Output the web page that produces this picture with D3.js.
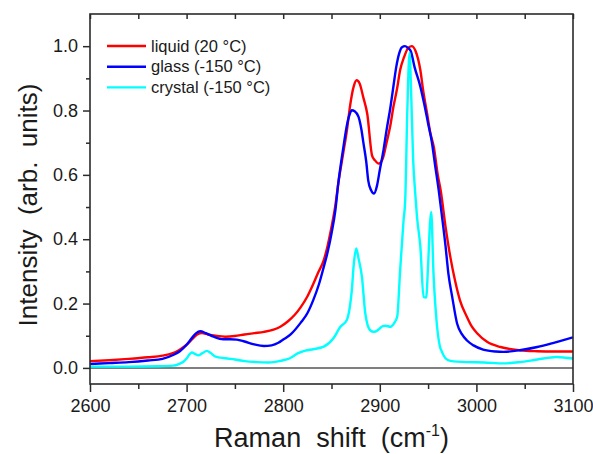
<!DOCTYPE html>
<html lang="en">
<head>
<meta charset="UTF-8">
<title>Raman spectra</title>
<script src="https://d3js.org/d3.v7.min.js"></script>
<style>
  body { margin: 0; background: #fff; }
  svg text { font-family: "Liberation Sans", Arial, sans-serif; fill: #1a1a1a; }
</style>
</head>
<body>
<svg id="chart" width="593" height="454"></svg>
<script>
// liquid (20 °C)
const liquidX = [2600, 2620, 2640, 2660, 2675, 2685, 2692, 2700, 2706, 2711, 2716, 2722, 2730, 2740, 2750,
  2760, 2770, 2780, 2790, 2797, 2805, 2812, 2818, 2825, 2831, 2836, 2842, 2846, 2850, 2854, 2857, 2862,
  2866, 2869, 2873, 2876, 2879, 2883, 2887, 2892, 2895, 2899, 2903, 2907, 2911, 2914, 2918, 2921, 2925,
  2929, 2933, 2937, 2942, 2945, 2949, 2952, 2956, 2960, 2963, 2968, 2973, 2978, 2983, 2990, 2995, 3001,
  3011, 3025, 3045, 3063, 3080, 3100];
const liquidY = [0.021, 0.024, 0.028, 0.033, 0.038, 0.045, 0.055, 0.072, 0.090, 0.104, 0.108, 0.104, 0.100, 0.097, 0.099,
  0.104, 0.108, 0.112, 0.119, 0.128, 0.145, 0.165, 0.188, 0.222, 0.260, 0.295, 0.335, 0.380, 0.438, 0.505, 0.573, 0.665,
  0.739, 0.810, 0.875, 0.894, 0.885, 0.840, 0.790, 0.660, 0.645, 0.635, 0.650, 0.700, 0.755, 0.810, 0.870, 0.925, 0.965,
  0.993, 1.000, 0.985, 0.925, 0.860, 0.790, 0.735, 0.685, 0.600, 0.552, 0.440, 0.345, 0.270, 0.210, 0.160, 0.130, 0.107,
  0.081, 0.065, 0.055, 0.052, 0.051, 0.051];

// glass (-150 °C)
const glassX = [2600, 2620, 2640, 2660, 2675, 2686, 2693, 2700, 2706, 2710, 2714, 2720, 2728, 2738, 2745, 2752,
  2760, 2770, 2780, 2788, 2795, 2800, 2808, 2818, 2825, 2831, 2837, 2842, 2846, 2850, 2854, 2857, 2860, 2863,
  2866, 2869, 2871, 2874, 2878, 2881, 2883, 2886, 2888, 2891, 2894, 2897, 2900, 2904, 2907, 2911, 2914, 2917,
  2920, 2923, 2926, 2929, 2932, 2936, 2942, 2946, 2950, 2954, 2957, 2961, 2964, 2968, 2971, 2975, 2980, 2985,
  2990, 2997, 3007, 3020, 3028, 3045, 3063, 3080, 3100];
const glassY = [0.012, 0.015, 0.018, 0.023, 0.028, 0.040, 0.052, 0.072, 0.095, 0.108, 0.114, 0.108, 0.097, 0.089, 0.089, 0.088,
  0.082, 0.073, 0.068, 0.070, 0.078, 0.088, 0.105, 0.140, 0.170, 0.210, 0.260, 0.314, 0.360, 0.418, 0.490, 0.573, 0.640, 0.700,
  0.755, 0.790, 0.801, 0.798, 0.780, 0.740, 0.700, 0.640, 0.583, 0.552, 0.542, 0.565, 0.615, 0.680, 0.739, 0.810, 0.873, 0.935,
  0.977, 0.997, 1.000, 0.995, 0.985, 0.935, 0.874, 0.820, 0.760, 0.700, 0.635, 0.552, 0.480, 0.380, 0.293, 0.220, 0.138, 0.105,
  0.086, 0.070, 0.057, 0.051, 0.050, 0.055, 0.065, 0.078, 0.095];

// crystal (-150 °C)
const crystalX = [2600, 2640, 2670, 2686, 2692, 2697, 2700, 2703, 2705.5, 2709, 2712, 2716, 2721, 2725, 2730, 2740,
  2750, 2760, 2773, 2785, 2797, 2807, 2815, 2823, 2831, 2842, 2852, 2859, 2866, 2869, 2871, 2873, 2875.6, 2878,
  2881.5, 2885, 2890, 2894, 2899, 2903, 2906, 2911, 2915, 2918, 2921, 2924.6, 2926.3, 2928.5, 2930.8, 2932.5,
  2934.5, 2936.5, 2938.5, 2942, 2945.3, 2948, 2950, 2952, 2953.2, 2955.6, 2959, 2962, 2964.3, 2968, 2973, 2990,
  3008, 3028, 3045, 3063, 3083, 3100];
const crystalY = [0.004, 0.004, 0.005, 0.007, 0.012, 0.020, 0.029, 0.042, 0.048, 0.043, 0.039, 0.045, 0.053, 0.046, 0.035, 0.030,
  0.026, 0.021, 0.018, 0.017, 0.022, 0.030, 0.045, 0.054, 0.058, 0.066, 0.092, 0.127, 0.150, 0.190, 0.240, 0.320, 0.371, 0.340,
  0.283, 0.169, 0.117, 0.112, 0.120, 0.130, 0.131, 0.128, 0.140, 0.159, 0.300, 0.459, 0.520, 0.800, 0.980, 0.850,
  0.650, 0.550, 0.470, 0.376, 0.220, 0.219, 0.320, 0.450, 0.485, 0.293, 0.138, 0.070, 0.050, 0.030, 0.022, 0.018,
  0.017, 0.014, 0.018, 0.026, 0.034, 0.029];

const seriesNames = ["liquid (20 °C)", "glass (-150 °C)", "crystal (-150 °C)"];
const seriesColors = ["#ff0000", "#0000ff", "#00ffff"];
const xTicks = [2600, 2700, 2800, 2900, 3000, 3100];
const xMinorTicks = [2650, 2750, 2850, 2950, 3050];
const yTicks = [0.0, 0.2, 0.4, 0.6, 0.8, 1.0];
const yMinorTicks = [0.1, 0.3, 0.5, 0.7, 0.9];

function drawChart() {
    const svg = d3.select("#chart");
    const margin = { top: 14, right: 20, bottom: 70, left: 90 };
    const width = +svg.attr("width");
    const height = +svg.attr("height");
    const w = width - margin.left - margin.right;
    const h = height - margin.top - margin.bottom;
    const axisColor = "#2b2b2b";

    const x = d3.scaleLinear().domain([2600, 3100]).range([0, w]);
    const y = d3.scaleLinear().domain([-0.05, 1.1]).range([h, 0]);

    const g = svg.append("g").attr("transform", `translate(${margin.left},${margin.top})`);

    // zero line
    g.append("line")
        .attr("x1", 0).attr("x2", w)
        .attr("y1", y(0)).attr("y2", y(0))
        .attr("stroke", "#555").attr("stroke-width", 1.5);

    const series = [
        { xs: liquidX, ys: liquidY },
        { xs: glassX, ys: glassY },
        { xs: crystalX, ys: crystalY }
    ];

    const line = d3.line()
        .x(d => x(d[0]))
        .y(d => y(d[1]))
        .curve(d3.curveMonotoneX);

    const clip = svg.append("clipPath").attr("id", "plotClip");
    clip.append("rect").attr("width", w).attr("height", h);

    g.append("g").attr("clip-path", "url(#plotClip)")
        .selectAll("path")
        .data(series)
        .enter()
        .append("path")
        .attr("d", d => line(d.xs.map((v, i) => [v, d.ys[i]])))
        .attr("fill", "none")
        .attr("stroke", (d, i) => seriesColors[i])
        .attr("stroke-width", 2.4)
        .attr("stroke-linejoin", "round");

    // axes
    const styleAxis = sel => {
        sel.select(".domain").remove();
        sel.selectAll("line").attr("stroke", axisColor).attr("stroke-width", 1.5);
        sel.selectAll("text").style("font-size", "18px").attr("fill", "#1a1a1a");
    };

    g.append("g")
        .attr("transform", `translate(0,${h})`)
        .call(d3.axisBottom(x).tickValues(xTicks).tickSize(8).tickPadding(7).tickFormat(d3.format("d")))
        .call(styleAxis);

    g.append("g")
        .attr("transform", `translate(0,${h})`)
        .call(d3.axisBottom(x).tickValues(xMinorTicks).tickSize(5).tickFormat(""))
        .call(styleAxis);

    g.append("g")
        .call(d3.axisTop(x).tickValues(xTicks.concat(xMinorTicks)).tickSize(-5).tickFormat(""))
        .call(styleAxis);

    g.append("g")
        .call(d3.axisLeft(y).tickValues(yTicks).tickSize(7).tickPadding(5).tickFormat(d3.format(".1f")))
        .call(styleAxis);

    g.append("g")
        .call(d3.axisLeft(y).tickValues(yMinorTicks).tickSize(4).tickFormat(""))
        .call(styleAxis);

    // frame
    g.append("rect")
        .attr("width", w).attr("height", h)
        .attr("fill", "none")
        .attr("stroke", axisColor)
        .attr("stroke-width", 1.6);

    // legend
    const legend = g.append("g").attr("transform", "translate(17,32)");
    seriesNames.forEach((name, i) => {
        legend.append("line")
            .attr("x1", 0).attr("x2", 39)
            .attr("y1", i * 20.7).attr("y2", i * 20.7)
            .attr("stroke", seriesColors[i]).attr("stroke-width", 2.4);
        legend.append("text")
            .attr("x", 44).attr("y", i * 20.7)
            .attr("dy", "0.35em")
            .style("font-size", "16.5px")
            .text(name);
    });

    // axis titles
    const xTitle = svg.append("text")
        .attr("x", margin.left + w / 2)
        .attr("y", 447)
        .attr("text-anchor", "middle")
        .style("font-size", "27px")
        .style("white-space", "pre");
    xTitle.append("tspan").text("Raman  shift  (cm");
    xTitle.append("tspan").attr("dy", -11).style("font-size", "16px").text("-1");
    xTitle.append("tspan").attr("dy", 11).text(")");

    svg.append("text")
        .attr("transform", `translate(37,${margin.top + h / 2 + 6})rotate(-90)`)
        .attr("text-anchor", "middle")
        .style("font-size", "26px")
        .style("white-space", "pre")
        .text("Intensity  (arb.  units)");
}

drawChart();
</script>
</body>
</html>
